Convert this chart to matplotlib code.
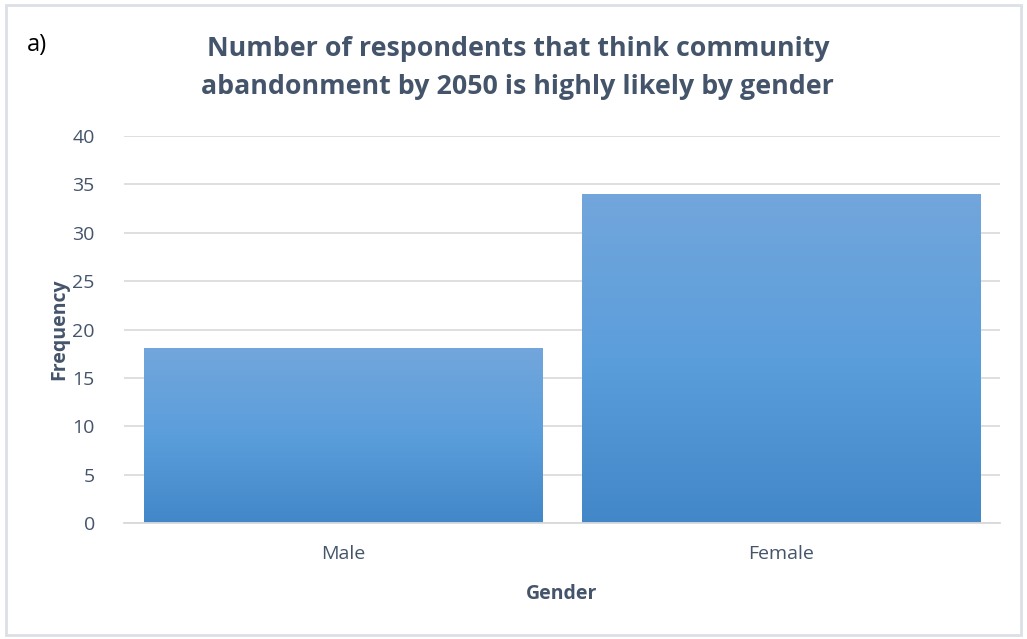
import numpy as np
import matplotlib
matplotlib.use('Agg')
import matplotlib.pyplot as plt
from matplotlib.colors import LinearSegmentedColormap
from matplotlib.patches import Rectangle

categories = ['Male', 'Female']
counts = [18, 34]
yticks = [0, 5, 10, 15, 20, 25, 30, 35, 40]

TEXT = '#44546A'
GRID = '#D9D9D9'

plt.rcParams['font.family'] = ['Open Sans', 'DejaVu Sans']

fig = plt.figure(figsize=(10.27, 6.39), dpi=100)
ax = fig.add_axes([0.1207, 0.1815, 0.853, 0.6057])

x = np.arange(len(categories))
bars = ax.bar(x, counts, width=0.91, color='none', zorder=2)

# gradient fill, lighter at top (like the Excel style)
cmap = LinearSegmentedColormap.from_list('blu', ['#4287C8', '#5B9EDC', '#72A6DB'])
grad = np.linspace(0, 1, 256).reshape(-1, 1)
for b in bars:
    x0, y0 = b.get_x(), b.get_y()
    w, h = b.get_width(), b.get_height()
    ax.imshow(grad, cmap=cmap, origin='lower', aspect='auto',
              extent=[x0, x0 + w, y0, y0 + h], zorder=2)

ax.set_xlim(-0.5, len(categories) - 0.5)
ax.set_ylim(0, 40)
ax.set_yticks(yticks)
ax.set_xticks(x)
ax.set_xticklabels(categories)
ax.yaxis.grid(True, color=GRID, linewidth=1.2, zorder=0)
ax.set_axisbelow(True)
for s in ['top', 'right', 'left']:
    ax.spines[s].set_visible(False)
ax.spines['bottom'].set_color(GRID)
ax.spines['bottom'].set_linewidth(1.3)
ax.spines['bottom'].set_zorder(3)
ax.tick_params(axis='both', length=0, labelsize=14, labelcolor=TEXT)
ax.tick_params(axis='y', pad=21)
ax.tick_params(axis='x', pad=16)

ax.set_ylabel('Frequency', fontsize=14, fontweight='bold', color=TEXT, labelpad=2)
ax.set_xlabel('Gender', fontsize=14, fontweight='bold', color=TEXT, labelpad=15)

fig.text(0.5043, 0.894, 'Number of respondents that think community\nabandonment by 2050 is highly likely by gender',
         ha='center', va='center', fontsize=19.3, fontweight='bold', color=TEXT,
         linespacing=1.62)
fig.text(0.026, 0.929, 'a)', fontsize=17, color='black', va='center')

fig.patches.append(Rectangle((0.006, 0.006), 0.988, 0.986, transform=fig.transFigure,
                             fill=False, edgecolor='#DCDFE5', linewidth=2))

fig.savefig('out.png', dpi=100)
